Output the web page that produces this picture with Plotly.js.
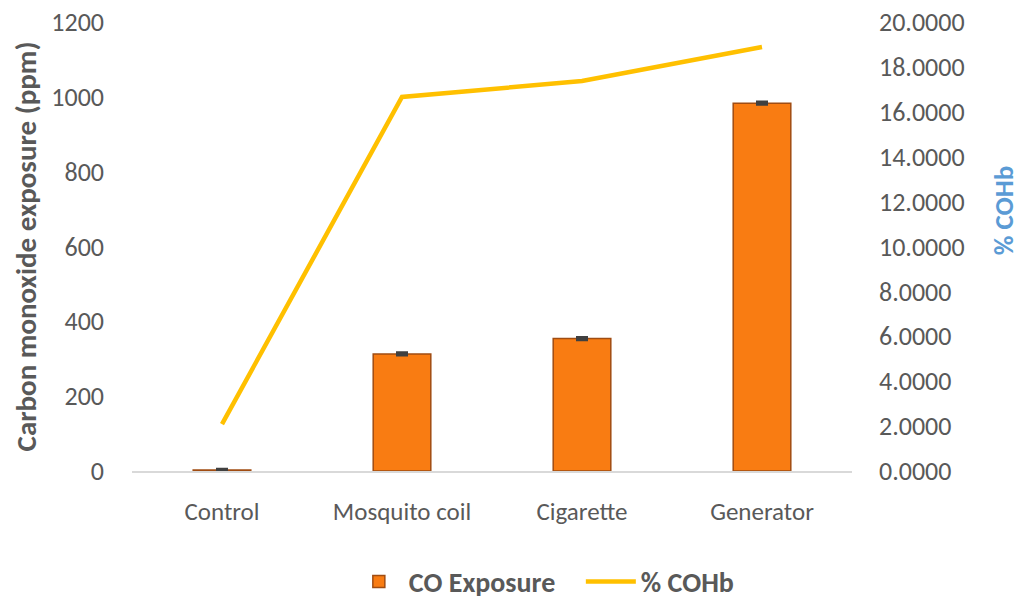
<!DOCTYPE html>
<html>
<head>
<meta charset="utf-8">
<script src="https://cdn.plot.ly/plotly-3.0.1.min.js"></script>
<style>
  html, body { margin: 0; padding: 0; background: #ffffff; }
  #chart { width: 1023px; height: 601px; }
</style>
</head>
<body>
<div id="chart"></div>
<script>
// Exposure sources
const categories = ["Control", "Mosquito coil", "Cigarette", "Generator"];
// Carbon monoxide exposure (ppm)
const coExposure = [3, 313, 354, 983];
const coError = [2, 3, 3, 3];
// Carboxyhaemoglobin (%)
const cohb = [2.09, 16.66, 17.37, 18.89];

const leftTicks = [0, 200, 400, 600, 800, 1000, 1200];
const rightTicks = [0, 2, 4, 6, 8, 10, 12, 14, 16, 18, 20];

const textGrey = "#595959";
const font = "Calibri, Carlito, Lato, 'Open Sans', sans-serif";

const traces = [
  {
    type: "bar",
    name: "CO Exposure",
    x: categories,
    y: coExposure,
    width: 0.32,
    marker: {
      color: "#F97C12",
      line: { color: "#A04C12", width: 1.5 }
    },
    error_y: {
      type: "data",
      array: coError,
      visible: true,
      color: "#404040",
      thickness: 3,
      width: 6
    },
    yaxis: "y"
  },
  {
    type: "scatter",
    mode: "lines",
    name: "% COHb",
    x: categories,
    y: cohb,
    line: { color: "#FFC000", width: 4.5 },
    yaxis: "y2"
  }
];

const layout = {
  width: 1023,
  height: 601,
  margin: { l: 132, r: 171, t: 22, b: 130 },
  paper_bgcolor: "#ffffff",
  plot_bgcolor: "#ffffff",
  font: { family: font, color: textGrey, size: 26 },
  showlegend: true,
  legend: {
    orientation: "h",
    xref: "container",
    yref: "container",
    x: 0.341,
    xanchor: "left",
    y: 0.032,
    yanchor: "middle",
    itemwidth: 50,
    entrywidth: 167,
    entrywidthmode: "pixels",
    font: { size: 28, color: textGrey, family: font, weight: "bold" },
    traceorder: "normal"
  },
  xaxis: {
    type: "category",
    showline: true,
    linecolor: "#d9d9d9",
    linewidth: 1.5,
    showgrid: false,
    zeroline: false,
    ticks: "",
    tickfont: { size: 25, color: textGrey },
    ticklabelstandoff: 17
  },
  yaxis: {
    range: [0, 1200],
    tickvals: leftTicks,
    showgrid: false,
    zeroline: false,
    showline: false,
    ticks: "",
    tickfont: { size: 26, color: textGrey },
    ticklabelstandoff: 27,
    title: {
      text: "Carbon monoxide exposure (ppm)",
      font: { size: 29, color: textGrey, weight: "bold" },
      standoff: 6
    }
  },
  yaxis2: {
    overlaying: "y",
    side: "right",
    range: [0, 20],
    tickvals: rightTicks,
    tickformat: ".4f",
    showgrid: false,
    zeroline: false,
    showline: false,
    ticks: "",
    tickfont: { size: 26, color: textGrey },
    ticklabelstandoff: 26
  },
  annotations: [
    {
      text: "% COHb",
      xref: "paper",
      yref: "paper",
      x: 1.21,
      y: 0.581,
      xanchor: "center",
      yanchor: "middle",
      textangle: -90,
      showarrow: false,
      font: { size: 27, color: "#5B9BD5", family: font, weight: "bold" }
    }
  ]
};

Plotly.newPlot("chart", traces, layout, { displayModeBar: false, staticPlot: true });
</script>
</body>
</html>
